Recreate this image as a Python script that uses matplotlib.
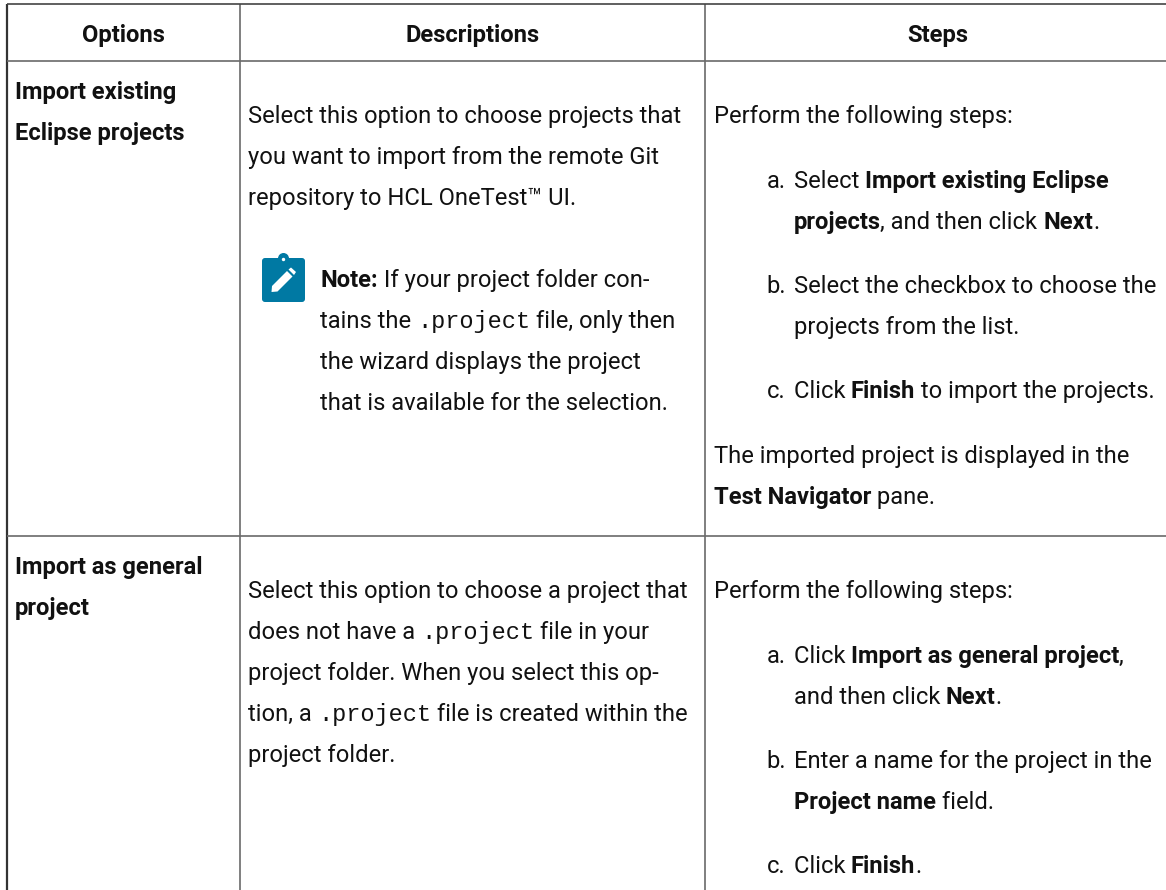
import matplotlib
matplotlib.use("Agg")
import matplotlib.pyplot as plt
from matplotlib.patches import FancyBboxPatch, Polygon, Circle

W, H = 1166, 890
headers = ["Options", "Descriptions", "Steps"]
col_edges = [7, 240, 705, 1171]
row_edges = [4, 61, 536]
TEXT = "#111111"
LINE = "#6a6a6a"
ICON = "#0079a3"

# line = (x, baseline y, [(text, style), ...]) ; style: r regular, b bold, m mono
n, b, m = "r", "b", "m"
option_lines = [
    (15, 99, [("Import existing", b)]),
    (15, 140, [("Eclipse projects", b)]),
    (15, 574, [("Import as general", b)]),
    (15, 615, [("project", b)]),
]
description_lines = [
    (248.5, 123, [("Select this option to choose projects that", n)]),
    (248.5, 164, [("you want to import from the remote Git", n)]),
    (248.5, 205, [("repository to HCL OneTest™ UI.", n)]),
    (320.5, 287, [("Note:", b), (" If your project folder con-", n)]),
    (320.5, 328, [("tains the ", n), (".project", m), (" file, only then", n)]),
    (320.5, 369, [("the wizard displays the project", n)]),
    (320.5, 410, [("that is available for the selection.", n)]),
    (248.5, 598, [("Select this option to choose a project that", n)]),
    (248.5, 639, [("does not have a ", n), (".project", m), (" file in your", n)]),
    (248.5, 680, [("project folder. When you select this op-", n)]),
    (248.5, 721, [("tion, a ", n), (".project", m), (" file is created within the", n)]),
    (248.5, 762, [("project folder.", n)]),
]
step_lines = [
    (714, 123, [("Perform the following steps:", n)]),
    (766.5, 188, [("a.", n)]),
    (793.5, 188, [("Select ", n), ("Import existing Eclipse", b)]),
    (793.5, 229, [("projects", b), (", and then click ", n), ("Next", b), (".", n)]),
    (766.5, 293, [("b.", n)]),
    (793.5, 293, [("Select the checkbox to choose the", n)]),
    (793.5, 334, [("projects from the list.", n)]),
    (766.5, 398, [("c.", n)]),
    (793.5, 398, [("Click ", n), ("Finish", b), (" to import the projects.", n)]),
    (714, 463, [("The imported project is displayed in the", n)]),
    (714, 504, [("Test Navigator", b), (" pane.", n)]),
    (714, 598, [("Perform the following steps:", n)]),
    (766.5, 663, [("a.", n)]),
    (793.5, 663, [("Click ", n), ("Import as general project", b), (",", n)]),
    (793.5, 704, [("and then click ", n), ("Next", b), (".", n)]),
    (766.5, 768, [("b.", n)]),
    (793.5, 768, [("Enter a name for the project in the", n)]),
    (793.5, 809, [("Project name", b), (" field.", n)]),
    (766.5, 873, [("c.", n)]),
    (793.5, 873, [("Click ", n), ("Finish", b), (".", n)]),
]

fig = plt.figure(figsize=(W / 100, H / 100), dpi=100)
ax = fig.add_axes([0, 0, 1, 1])
ax.set_xlim(0, W)
ax.set_ylim(H, 0)
ax.axis("off")

STY = {
    "r": dict(family="Roboto", weight="normal", size=17.15),
    "b": dict(family="Roboto", weight="bold", size=17.15),
    "m": dict(family="Liberation Mono", weight="normal", size=17),
}
renderer = fig.canvas.get_renderer()


def width(txt, sty):
    a = ax.text(0, 0, "x" + txt + "x", **STY[sty])
    c = ax.text(0, 0, "xx", **STY[sty])
    w = a.get_window_extent(renderer).width - c.get_window_extent(renderer).width
    a.remove()
    c.remove()
    return w


def draw_line(x, y, runs):
    for txt, sty in runs:
        ax.text(x, y, txt, va="baseline", ha="left", color=TEXT, **STY[sty])
        x += width(txt, sty)


for i, x in enumerate(col_edges):
    ax.plot([x, x], [row_edges[0], H], color="#333333" if i == 0 else LINE,
            lw=1.6 if i == 0 else 1.2, solid_capstyle="butt")
for i, y in enumerate(row_edges):
    ax.plot([col_edges[0], col_edges[-1]], [y, y], color="#444444" if i == 0 else LINE,
            lw=1.2, solid_capstyle="butt")

for i, h in enumerate(headers):
    ax.text((col_edges[i] + col_edges[i + 1]) / 2, 42, h, ha="center", va="baseline",
            color=TEXT, **STY["b"])

for group in (option_lines, description_lines, step_lines):
    for x, y, runs in group:
        draw_line(x, y, runs)

# note icon
ax.add_patch(Circle((283.5, 258.5), 5.5, fc=ICON, ec="none"))
ax.add_patch(FancyBboxPatch((265, 261), 37, 38, boxstyle="round,pad=3,rounding_size=3",
                            fc=ICON, ec="none"))
ax.add_patch(Circle((283.5, 259.5), 1.7, fc="white", ec="none"))
ax.add_patch(Polygon([(271.5, 292), (272, 286), (287, 271), (292.5, 276.5), (277.5, 291.5)],
                     fc="white", ec="none"))
ax.add_patch(Polygon([(288.5, 269.5), (291, 267.5), (296, 272), (294, 275)], fc="white", ec="none"))

fig.savefig("out.png", dpi=100, facecolor="white")
